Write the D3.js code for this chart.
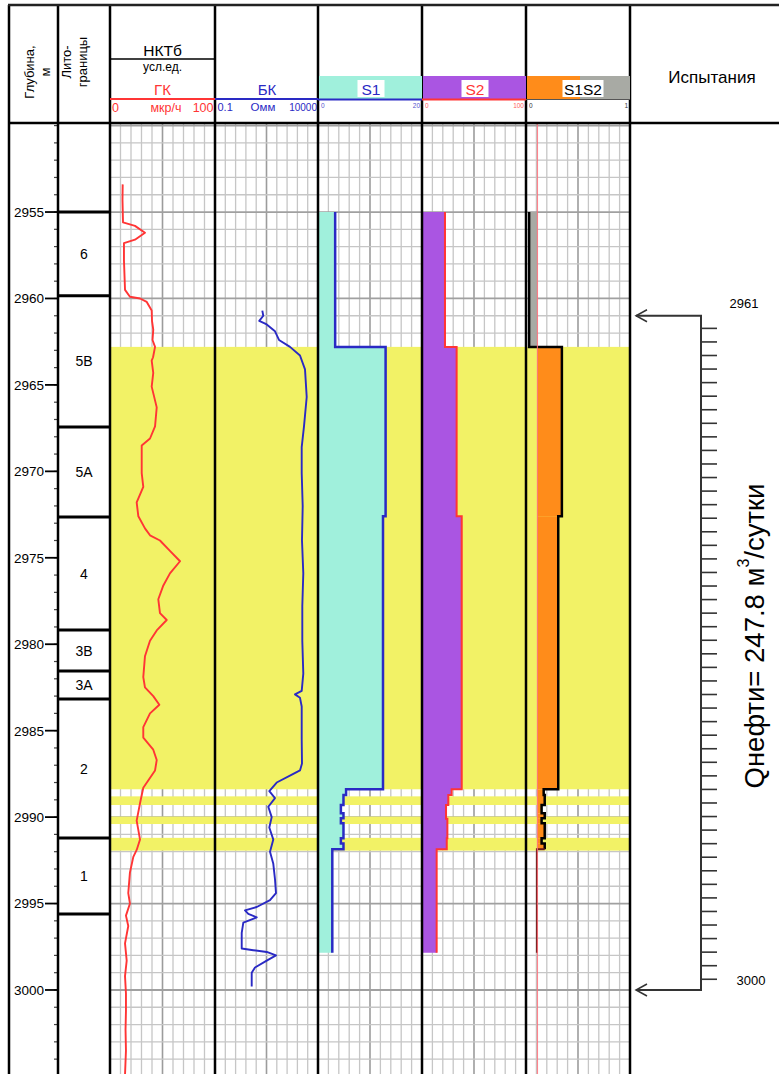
<!DOCTYPE html>
<html><head><meta charset="utf-8">
<script src="https://cdn.jsdelivr.net/npm/d3@7"></script>
<style>
body{margin:0;background:#fff}
svg{display:block}
text{font-family:"Liberation Sans",Arial,sans-serif}
</style>
</head><body><svg id="c" width="779" height="1074"></svg>
<script>
// ---------------- DATA ----------------
const depthLabels = [2955,2960,2965,2970,2975,2980,2985,2990,2995,3000];
const lithoBounds = [2955, 2959.84, 2967.43, 2972.64, 2979.18, 2981.55, 2983.17, 2991.21, 2995.6];
const lithoLabels = ["6","5В","5А","4","3В","3А","2","1"];
const reservoirTop    = [2962.8, 2988.8, 2989.97, 2991.2];
const reservoirBottom = [2988.39, 2989.3, 2990.4, 2991.94];

const gkDepth = [2953.4,2954.3,2955.6,2955.8,2956.2,2956.6,2956.8,2957.8,2959.5,2959.9,2960.0,2960.2,2960.7,2961.3,2961.8,2962.4,2962.8,2963.4,2963.6,2964.3,2965.1,2966.3,2967.4,2968.1,2968.5,2969.3,2970.1,2970.9,2971.8,2972.6,2973.3,2973.7,2974.0,2974.6,2975.2,2975.9,2976.6,2977.4,2978.2,2978.6,2979.2,2979.8,2980.7,2981.9,2982.5,2983.0,2983.5,2984.0,2984.8,2985.4,2986.1,2986.7,2987.3,2988.3,2989.2,2990.2,2991.3,2991.9,2992.3,2993.2,2994.4,2995.0,2995.7,2996.3,2997.3,2998.3,2999.2,3000.2,3001.2,3002.3,3003.5,3004.9];
const gkValue = [12.1,11.9,12.4,23.8,33.3,23.8,13.3,13.3,14.3,19,28.6,35,39.7,40,41.2,40.5,42.9,41,39.7,41.2,39.7,44.5,42.9,38.1,30.2,30.2,30.2,31.7,25.4,27,33.3,38.1,47.6,57.1,66.7,57.1,50.8,46,47.6,54,44.5,38.1,33.3,31.7,33.3,41.2,47,38.1,31.7,31.7,41.2,44.5,42.9,31.7,28.6,25.4,28.6,25.4,22.2,19,17.4,19,15.2,17.4,14.3,15.9,14.3,15.2,15.2,14.8,15.2,14.3];

const bkDepth = [2960.7,2961.0,2961.3,2961.5,2961.9,2962.4,2962.8,2963.3,2964.1,2965.7,2967.4,2968.6,2970.1,2972.0,2974.0,2975.9,2977.8,2979.8,2981.7,2982.7,2982.9,2983.1,2983.6,2985.5,2986.9,2987.3,2987.5,2988.0,2988.5,2988.9,2989.4,2990.0,2990.6,2991.3,2992.0,2992.7,2993.6,2994.4,2994.8,2995.2,2995.4,2995.6,2995.8,2996.1,2996.7,2997.6,2997.7,2997.8,2998.0,2998.3,2998.7,2999.0,2999.8];
const bkValue = [19.8,22.1,14.1,32.4,81.8,128,437,1337,2339,2830,2090,1618,1618,1808,1671,1933,1730,1730,1933,1618,764,1337,1618,1618,1671,1337,632,98.9,43.3,81.8,38.6,56.5,43.3,67.6,46.8,67.6,81.8,91.4,46.8,10.6,2.86,4.14,10.6,2.37,1.98,1.98,7.23,32.4,91.4,32.4,8.75,6.05,6.05];

const s1Bounds = [2955, 2962.8, 2972.6, 2988.39, 2988.72, 2989.3, 2989.78, 2990.07, 2990.36, 2991.23, 2991.52, 2991.86, 2997.84];
const s1Values = [3.3, 13.0, 12.5, 5.4, 4.9, 4.4, 4.9, 4.4, 4.9, 4.4, 4.9, 2.75];
const s2Bounds = [2955, 2962.8, 2972.6, 2988.39, 2988.72, 2989.3, 2990.1, 2991.23, 2991.86, 2997.84];
const s2Values = [22.1, 33.3, 38.2, 28.5, 25.3, 23.1, 24.4, 23.8, 14.1];
const s12Bounds = [2955, 2962.8, 2972.6, 2988.39, 2988.72, 2989.3, 2989.78, 2990.07, 2990.36, 2991.23, 2991.52, 2991.86, 2997.84];
const s12Values = [0.03, 0.345, 0.31, 0.17, 0.18, 0.15, 0.18, 0.15, 0.18, 0.15, 0.18, 0.105];
const s12Cutoff = 0.11;

const testTop = 2961, testBottom = 3000;
const testTickFirst = 2961.73, testTickLast = 2999.38, testTickCount = 49;
const testLabel = "Qнефти= 247.8 м";

// ---------------- LAYOUT ----------------
const svg = d3.select("#c");
const colX = [9, 58, 110, 215, 318, 422, 526, 630];
const TOP = 5, HB = 123, BOT = 1074;
const y = d3.scaleLinear([2949.85, 3004.86], [HB, BOT]);
const gkX = d3.scaleLinear([0, 100], [110, 215]);
const bkX = d3.scaleLog([0.1, 10000], [215, 318]);
const s1X = d3.scaleLinear([0, 20], [318, 422]);
const s2X = d3.scaleLinear([0, 100], [422, 526]);
const s12X = d3.scaleLinear([0, 1], [526, 630]);

const YEL = "#f2f266", AQUA = "#a0f0dc", PURP = "#aa55e2", ORNG = "#ff8c1a", GRAY = "#a8aaa4";
const BLUE = "#2a2ac4", RED = "#ff3535";

svg.append("defs").append("clipPath").attr("id","plot")
  .append("rect").attr("x",110).attr("y",HB).attr("width",520).attr("height",BOT-HB);

const plot = svg.append("g").attr("clip-path","url(#plot)");

// grid
const tracks = [[110,215],[215,318],[318,422],[422,526],[526,630]];
const gridG = plot.append("g");
tracks.forEach(([a,b])=>{
  const gx = d3.scaleLinear([0,10],[a,b]);
  d3.range(1,10).forEach(i=>{
    gridG.append("line").attr("x1",gx(i)).attr("x2",gx(i)).attr("y1",HB).attr("y2",BOT)
      .attr("stroke", i===5 ? "#9c9c9c" : "#c6c6c6").attr("stroke-width", i===5?1.6:1.3);
  });
});
d3.range(2950, 3005).forEach(d=>{
  gridG.append("line").attr("x1",110).attr("x2",630).attr("y1",y(d)).attr("y2",y(d))
    .attr("stroke", d%5===0 ? "#a0a0a0" : "#c6c6c6").attr("stroke-width", d%5===0?1.8:1.3);
});

// reservoir bands
reservoirTop.forEach((t,i)=>{
  plot.append("rect").attr("x",110).attr("width",520)
    .attr("y",y(t)).attr("height",y(reservoirBottom[i])-y(t)).attr("fill",YEL);
});

// step helpers
function stepPts(bounds, values){
  const pts=[];
  values.forEach((v,i)=>{ pts.push([bounds[i],v]); pts.push([bounds[i+1],v]); });
  return pts;
}
function drawStep(bounds, values, xs, fill, stroke, sw){
  const pts = stepPts(bounds, values);
  plot.append("path").datum(pts)
    .attr("d", d3.area().x0(xs(0)).x1(p=>xs(p[1])).y(p=>y(p[0])))
    .attr("fill", fill);
  plot.append("path").datum(pts)
    .attr("d", d3.line().x(p=>xs(p[1])).y(p=>y(p[0])))
    .attr("fill","none").attr("stroke",stroke).attr("stroke-width",sw);
}
drawStep(s1Bounds, s1Values, s1X, AQUA, BLUE, 2.5);
drawStep(s2Bounds, s2Values, s2X, PURP, RED, 2);

// S1S2 fills relative to cutoff
s12Values.forEach((v,i)=>{
  const t=s12Bounds[i], b=s12Bounds[i+1];
  const x0 = s12X(Math.min(v,s12Cutoff)), x1 = s12X(Math.max(v,s12Cutoff));
  plot.append("rect").attr("x",x0).attr("width",x1-x0).attr("y",y(t)).attr("height",y(b)-y(t))
    .attr("fill", v>s12Cutoff ? ORNG : GRAY);
});
const s12Pts = stepPts(s12Bounds, s12Values);
plot.append("path").datum(s12Pts.slice(0, s12Pts.length-2))
  .attr("d", d3.line().x(p=>s12X(p[1])).y(p=>y(p[0])))
  .attr("fill","none").attr("stroke","#000").attr("stroke-width",2.5);
plot.append("path").datum(s12Pts.slice(s12Pts.length-3))
  .attr("d", d3.line().x(p=>s12X(p[1])).y(p=>y(p[0])))
  .attr("fill","none").attr("stroke","#6a1a1a").attr("stroke-width",2);
plot.append("line").attr("x1",s12X(s12Cutoff)).attr("x2",s12X(s12Cutoff)).attr("y1",HB).attr("y2",BOT)
  .attr("stroke","#ff6f7a").attr("stroke-width",1.2).attr("opacity",0.85);

// GK & BK curves
plot.append("path").datum(d3.zip(gkDepth,gkValue))
  .attr("d", d3.line().x(p=>gkX(p[1])).y(p=>y(p[0])))
  .attr("fill","none").attr("stroke",RED).attr("stroke-width",1.9).attr("stroke-linejoin","round");
plot.append("path").datum(d3.zip(bkDepth,bkValue))
  .attr("d", d3.line().x(p=>bkX(p[1])).y(p=>y(p[0])))
  .attr("fill","none").attr("stroke",BLUE).attr("stroke-width",1.9).attr("stroke-linejoin","round");

// depth column ticks & labels
d3.range(2950, 3005).forEach(d=>{
  svg.append("line").attr("x1",54).attr("x2",58).attr("y1",y(d)).attr("y2",y(d))
    .attr("stroke","#444").attr("stroke-width",1.2);
});
depthLabels.forEach(d=>{
  svg.append("line").attr("x1",45).attr("x2",58).attr("y1",y(d)).attr("y2",y(d))
    .attr("stroke","#000").attr("stroke-width",1.8);
  svg.append("text").attr("x",44).attr("y",y(d)).attr("dy","0.36em")
    .attr("text-anchor","end").attr("font-size",13.5).text(d);
});

// lithology
lithoBounds.forEach(d=>{
  svg.append("line").attr("x1",58).attr("x2",110).attr("y1",y(d)).attr("y2",y(d))
    .attr("stroke","#000").attr("stroke-width",3);
});
lithoLabels.forEach((l,i)=>{
  svg.append("text").attr("x",84).attr("y",(y(lithoBounds[i])+y(lithoBounds[i+1]))/2)
    .attr("dy","0.36em").attr("text-anchor","middle").attr("font-size",14).text(l);
});

// frame lines
colX.forEach(x=>{
  svg.append("line").attr("x1",x).attr("x2",x).attr("y1",TOP).attr("y2",BOT)
    .attr("stroke","#000").attr("stroke-width",2.5);
});
svg.append("line").attr("x1",8).attr("x2",779).attr("y1",TOP).attr("y2",TOP).attr("stroke","#222").attr("stroke-width",2.5);
svg.append("line").attr("x1",8).attr("x2",779).attr("y1",HB).attr("y2",HB).attr("stroke","#000").attr("stroke-width",2.5);

// ---------------- HEADER ----------------
function rtext(x,yy,t,fs){
  svg.append("text").attr("transform",`translate(${x},${yy}) rotate(-90)`)
    .attr("text-anchor","middle").attr("font-size",fs).text(t);
}
rtext(34,72,"Глубина,",13);
rtext(50,72,"м",13);
rtext(71,62,"Лито-",13);
rtext(87,62,"границы",13);

svg.append("text").attr("x",162.5).attr("y",56).attr("text-anchor","middle").attr("font-size",15.5).text("НКТб");
svg.append("line").attr("x1",110).attr("x2",215).attr("y1",59).attr("y2",59).attr("stroke","#000").attr("stroke-width",1.6);
svg.append("text").attr("x",162.5).attr("y",71).attr("text-anchor","middle").attr("font-size",12).text("усл.ед.");
svg.append("text").attr("x",162.5).attr("y",95).attr("text-anchor","middle").attr("font-size",15).attr("fill",RED).text("ГК");
svg.append("line").attr("x1",110).attr("x2",215).attr("y1",99).attr("y2",99).attr("stroke",RED).attr("stroke-width",2);
svg.append("text").attr("x",112).attr("y",112).attr("font-size",12.5).attr("fill",RED).text(gkX.domain()[0]);
svg.append("text").attr("x",166).attr("y",112).attr("text-anchor","middle").attr("font-size",12.5).attr("fill",RED).text("мкр/ч");
svg.append("text").attr("x",213.5).attr("y",112).attr("text-anchor","end").attr("font-size",12.5).attr("fill",RED).text(gkX.domain()[1]);

svg.append("text").attr("x",267).attr("y",95).attr("text-anchor","middle").attr("font-size",15).attr("fill",BLUE).text("БК");
svg.append("line").attr("x1",215).attr("x2",318).attr("y1",99).attr("y2",99).attr("stroke",BLUE).attr("stroke-width",2);
svg.append("text").attr("x",217.5).attr("y",111).attr("font-size",11).attr("fill",BLUE).text(bkX.domain()[0]);
svg.append("text").attr("x",263).attr("y",111).attr("text-anchor","middle").attr("font-size",11.5).attr("fill",BLUE).text("Омм");
svg.append("text").attr("x",317).attr("y",111).attr("text-anchor","end").attr("font-size",10).attr("fill",BLUE).text(bkX.domain()[1]);

function sHeader(a,b,label,color,lineColor,scale,bands){
  bands.forEach(([x0,x1,c])=>svg.append("rect").attr("x",x0).attr("width",x1-x0).attr("y",76).attr("height",23).attr("fill",c));
  const cx = bands.length>1 ? 583 : (a+b)/2 + 1;
  const w = label.length>2 ? 41 : 27;
  svg.append("rect").attr("x",cx-w/2).attr("width",w).attr("y",80).attr("height",17).attr("fill","#fff");
  svg.append("text").attr("x",cx).attr("y",94.5).attr("text-anchor","middle").attr("font-size",15.5).attr("fill",color).text(label);
  svg.append("line").attr("x1",a).attr("x2",b).attr("y1",99.5).attr("y2",99.5).attr("stroke",lineColor).attr("stroke-width",lineColor==="#555"?1:2);
  svg.append("text").attr("x",a+3).attr("y",108).attr("font-size",6.5).attr("fill",color).attr("opacity",0.8).text(scale.domain()[0]);
  svg.append("text").attr("x",b-2).attr("y",108).attr("text-anchor","end").attr("font-size",6.5).attr("fill",color).attr("opacity",0.8).text(scale.domain()[1]);
}
sHeader(318,422,"S1",BLUE,BLUE,s1X,[[319,422,AQUA]]);
sHeader(422,526,"S2",RED,RED,s2X,[[423,526,PURP]]);
sHeader(526,630,"S1S2","#000","#555",s12X,[[527,580,ORNG],[580,630,GRAY]]);

svg.append("text").attr("x",712).attr("y",83).attr("text-anchor","middle").attr("font-size",17).text("Испытания");

// ---------------- TEST PANEL ----------------
const tp = svg.append("g");
const vx = 701;
tp.append("path")
  .attr("d",`M636,${y(testTop)} H${vx} V${y(testBottom)} H636`)
  .attr("fill","none").attr("stroke","#333").attr("stroke-width",2);
[testTop,testBottom].forEach(d=>{
  tp.append("path").attr("d",`M647,${y(d)-6} L636,${y(d)} L647,${y(d)+6}`)
    .attr("fill","none").attr("stroke","#333").attr("stroke-width",1.5);
});
d3.range(testTickCount).forEach(i=>{
  const d = testTickFirst + i*(testTickLast-testTickFirst)/(testTickCount-1);
  tp.append("line").attr("x1",vx).attr("x2",717).attr("y1",y(d)).attr("y2",y(d))
    .attr("stroke","#333").attr("stroke-width",1.6);
});
tp.append("text").attr("x",744).attr("y",y(testTop)-8).attr("text-anchor","middle").attr("font-size",13).text(testTop);
tp.append("text").attr("x",751).attr("y",y(testBottom)-5).attr("text-anchor","middle").attr("font-size",13).text(testBottom);
const qt = tp.append("text").attr("transform","translate(754,636) rotate(-90)")
  .attr("text-anchor","middle").attr("dominant-baseline","central").attr("font-size",27.5);
qt.append("tspan").text(testLabel);
qt.append("tspan").attr("font-size",16).attr("dy",-11).text("3");
qt.append("tspan").attr("dy",11).text("/сутки");
</script>
</body></html>
